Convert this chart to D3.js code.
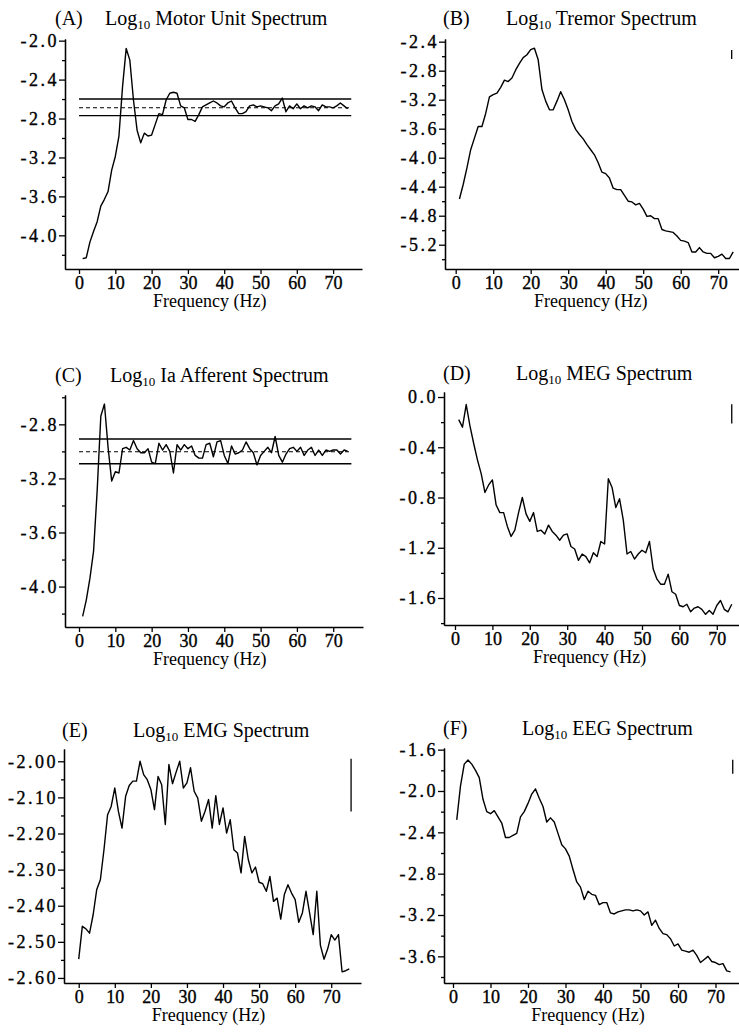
<!DOCTYPE html>
<html>
<head>
<meta charset="utf-8">
<script src="https://cdn.jsdelivr.net/npm/d3@7"></script>
<style>
  body { margin: 0; background: #fff; }
  text { font-family: "Liberation Serif", "DejaVu Serif", serif; fill: #000; }
  .axis path, .axis line { stroke: #000; stroke-width: 1.3; }
  .axis text { font-size: 18px; stroke: #000; stroke-width: 0.35px; }
  .yaxis text { letter-spacing: 2.5px; }
</style>
</head>
<body>
<script>
// Spectra, one value per Hz

var freqs = [1,2,3,4,5,6,7,8,9,10,11,12,13,14,15,16,17,18,19,20,21,22,23,24,25,26,27,28,29,30,
  31,32,33,34,35,36,37,38,39,40,41,42,43,44,45,46,47,48,49,50,51,52,53,54,55,56,57,58,59,60,
  61,62,63,64,65,66,67,68,69,70,71,72,73,74];

var freqsEMG = [0,1,2,3,4,5,6,7,8,9,10,11,12,13,14,15,16,17,18,19,20,21,22,23,24,25,26,27,28,29,30,
  31,32,33,34,35,36,37,38,39,40,41,42,43,44,45,46,47,48,49,50,51,52,53,54,55,56,57,58,59,60,
  61,62,63,64,65,66,67,68,69,70,71,72,73,74,75];

var motorUnit = [-4.24,-4.23,-4.07,-3.96,-3.86,-3.70,-3.63,-3.55,-3.33,-3.19,-2.98,-2.47,-2.08,-2.20,-2.61,
  -2.92,-3.05,-2.95,-2.98,-2.97,-2.86,-2.75,-2.76,-2.61,-2.54,-2.53,-2.54,-2.67,-2.69,-2.81,
  -2.81,-2.83,-2.76,-2.68,-2.66,-2.64,-2.62,-2.64,-2.67,-2.68,-2.64,-2.62,-2.69,-2.75,-2.75,
  -2.73,-2.67,-2.66,-2.68,-2.67,-2.68,-2.69,-2.72,-2.67,-2.65,-2.59,-2.73,-2.67,-2.70,-2.65,
  -2.70,-2.67,-2.69,-2.67,-2.68,-2.72,-2.66,-2.68,-2.68,-2.69,-2.67,-2.64,-2.67,-2.70];

var tremor = [-4.57,-4.37,-4.14,-3.89,-3.73,-3.57,-3.57,-3.39,-3.16,-3.13,-3.11,-3.03,-2.93,-2.95,-2.90,
  -2.79,-2.70,-2.62,-2.58,-2.51,-2.49,-2.65,-3.06,-3.22,-3.34,-3.34,-3.22,-3.09,-3.20,-3.34,
  -3.50,-3.61,-3.68,-3.74,-3.82,-3.89,-3.96,-4.07,-4.20,-4.22,-4.28,-4.42,-4.44,-4.44,-4.52,
  -4.60,-4.61,-4.65,-4.63,-4.71,-4.81,-4.80,-4.84,-4.84,-4.99,-5.01,-5.02,-5.03,-5.08,-5.14,
  -5.15,-5.17,-5.30,-5.30,-5.24,-5.30,-5.32,-5.32,-5.38,-5.36,-5.33,-5.39,-5.39,-5.30];

var iaAfferent = [-4.22,-4.10,-3.94,-3.74,-3.29,-2.74,-2.65,-2.97,-3.22,-3.15,-3.16,-2.98,-2.97,-2.99,-2.92,
  -2.98,-3.01,-3.01,-2.98,-3.08,-3.09,-2.94,-2.99,-2.95,-3.00,-3.16,-2.95,-2.99,-2.95,-2.98,
  -2.96,-3.03,-3.05,-3.05,-2.95,-2.94,-3.04,-2.93,-2.92,-3.03,-3.09,-2.96,-3.02,-3.01,-2.99,
  -2.93,-2.98,-3.01,-3.10,-3.03,-3.00,-2.97,-3.01,-2.89,-3.03,-3.08,-3.02,-2.98,-2.97,-3.00,
  -2.97,-3.03,-2.99,-2.97,-3.03,-2.99,-3.03,-2.99,-3.00,-2.99,-2.99,-3.02,-2.99,-3.00];

var meg = [-0.18,-0.24,-0.06,-0.23,-0.37,-0.50,-0.61,-0.76,-0.70,-0.66,-0.86,-0.92,-0.92,-1.03,-1.11,
  -1.06,-0.92,-0.80,-0.93,-0.99,-0.92,-1.07,-1.06,-1.09,-1.02,-1.07,-1.10,-1.14,-1.10,-1.09,
  -1.19,-1.21,-1.30,-1.25,-1.27,-1.32,-1.24,-1.27,-1.15,-1.17,-0.65,-0.72,-0.88,-0.81,-0.98,
  -1.25,-1.23,-1.29,-1.25,-1.22,-1.24,-1.15,-1.37,-1.45,-1.49,-1.49,-1.41,-1.55,-1.57,-1.66,
  -1.67,-1.65,-1.71,-1.68,-1.67,-1.69,-1.73,-1.70,-1.73,-1.66,-1.62,-1.69,-1.71,-1.65];

var emg = [-2.548,-2.457,-2.464,-2.476,-2.425,-2.355,-2.328,-2.245,-2.148,-2.125,-2.074,-2.139,-2.185,-2.097,
  -2.067,-2.055,-2.055,-2.000,-2.037,-2.051,-2.078,-2.134,-2.042,-2.065,-2.175,-2.009,-2.062,-2.030,
  -2.000,-2.074,-2.060,-2.018,-2.083,-2.102,-2.166,-2.139,-2.106,-2.185,-2.095,-2.175,-2.129,-2.199,
  -2.162,-2.245,-2.254,-2.309,-2.208,-2.272,-2.309,-2.293,-2.335,-2.339,-2.360,-2.319,-2.388,-2.379,
  -2.437,-2.369,-2.342,-2.365,-2.383,-2.446,-2.420,-2.360,-2.420,-2.480,-2.360,-2.510,-2.548,-2.520,
  -2.480,-2.495,-2.480,-2.583,-2.580,-2.575];

var eeg = [-2.28,-1.95,-1.74,-1.70,-1.74,-1.80,-1.87,-2.08,-2.20,-2.22,-2.19,-2.25,-2.31,-2.45,-2.45,
  -2.43,-2.41,-2.25,-2.20,-2.12,-2.03,-1.98,-2.07,-2.15,-2.30,-2.26,-2.30,-2.41,-2.52,-2.56,
  -2.63,-2.76,-2.88,-2.93,-3.05,-2.97,-3.00,-3.01,-3.10,-3.08,-3.08,-3.18,-3.19,-3.17,-3.16,
  -3.15,-3.15,-3.16,-3.15,-3.16,-3.20,-3.17,-3.30,-3.25,-3.33,-3.38,-3.39,-3.43,-3.50,-3.48,
  -3.54,-3.55,-3.56,-3.54,-3.59,-3.66,-3.63,-3.60,-3.65,-3.66,-3.68,-3.67,-3.74,-3.75];

// mean and +/- band lines for A and C, and the span they cover (Hz)
var bandsMotor = [-2.60, -2.69, -2.77];
var bandsIa = [-2.909, -3.003, -3.092];
var bandSpan = [0, 75];

// small vertical bars at top right: [Hz, low, high]
var barTremor = [73.6, -2.639, -2.514];
var barMeg = [74.0, -0.211, -0.058];
var barEmg = [75.5, -2.139, -1.993];
var barEeg = [74.6, -1.832, -1.697];

var xTicks = [0, 10, 20, 30, 40, 50, 60, 70];

var panels = [
  { tag: "(A)", name: " Motor Unit Spectrum", f: freqs, v: motorUnit, bands: bandsMotor, bar: null,
    left: 65, top: 39, right: 362, bottom: 269, xDom: [-3.86, 77.96], yDom: [-4.346, -1.983],
    major: [-2.0, -2.4, -2.8, -3.2, -3.6, -4.0], minor: [-2.2, -2.6, -3.0, -3.4, -3.8, -4.2],
    dec: 1, tagX: 55, titleX: 105, titleY: 25 },
  { tag: "(B)", name: " Tremor Spectrum", f: freqs, v: tremor, bands: null, bar: barTremor,
    left: 445, top: 39, right: 739, bottom: 269, xDom: [-2.85, 75.55], yDom: [-5.535, -2.363],
    major: [-2.4, -2.8, -3.2, -3.6, -4.0, -4.4, -4.8, -5.2], minor: [-2.6, -3.0, -3.4, -3.8, -4.2, -4.6, -5.0, -5.4],
    dec: 1, tagX: 443, titleX: 506, titleY: 25 },
  { tag: "(C)", name: " Ia Afferent Spectrum", f: freqs, v: iaAfferent, bands: bandsIa, bar: null,
    left: 65, top: 395, right: 363, bottom: 627, xDom: [-3.86, 78.2], yDom: [-4.299, -2.583],
    major: [-2.8, -3.2, -3.6, -4.0], minor: [-2.6, -3.0, -3.4, -3.8, -4.2],
    dec: 1, tagX: 55, titleX: 110, titleY: 382 },
  { tag: "(D)", name: " MEG Spectrum", f: freqs, v: meg, bands: null, bar: barMeg,
    left: 444, top: 392, right: 739, bottom: 625, xDom: [-2.94, 75.94], yDom: [-1.815, 0.04],
    major: [0.0, -0.4, -0.8, -1.2, -1.6], minor: [-0.2, -0.6, -1.0, -1.4, -1.8],
    dec: 1, tagX: 443, titleX: 516, titleY: 380 },
  { tag: "(E)", name: " EMG Spectrum", f: freqsEMG, v: emg, bands: null, bar: barEmg,
    left: 64, top: 749, right: 361, bottom: 983, xDom: [-4.08, 78.25], yDom: [-2.614, -1.966],
    major: [-2.0, -2.1, -2.2, -2.3, -2.4, -2.5, -2.6], minor: [-2.05, -2.15, -2.25, -2.35, -2.45, -2.55],
    dec: 2, tagX: 62, titleX: 133, titleY: 737 },
  { tag: "(F)", name: " EEG Spectrum", f: freqs, v: eeg, bands: null, bar: barEeg,
    left: 444, top: 748, right: 739, bottom: 983, xDom: [-2.4, 76.27], yDom: [-3.858, -1.584],
    major: [-1.6, -2.0, -2.4, -2.8, -3.2, -3.6], minor: [-1.8, -2.2, -2.6, -3.0, -3.4, -3.8],
    dec: 1, tagX: 443, titleX: 522, titleY: 735 }
];

var svgWidth = 739;
var svgHeight = 1033;

var svg = d3.select("body")
  .append("svg")
  .attr("width", svgWidth)
  .attr("height", svgHeight);

panels.forEach(function(p) {
  var w = p.right - p.left;
  var h = p.bottom - p.top;

  var g = svg.append("g")
    .attr("transform", `translate(${p.left}, ${p.top})`);

  var x = d3.scaleLinear().domain(p.xDom).range([0, w]);
  var y = d3.scaleLinear().domain(p.yDom).range([h, 0]);

  // minor ticks first, then labelled ticks on top
  g.append("g")
    .attr("class", "axis")
    .call(d3.axisLeft(y).tickValues(p.minor).tickSize(3).tickSizeOuter(0).tickFormat(""));

  g.append("g")
    .attr("class", "axis yaxis")
    .call(d3.axisLeft(y).tickValues(p.major).tickSize(6).tickSizeOuter(0).tickPadding(0)
      .tickFormat(d => d.toFixed(p.dec)));

  g.append("g")
    .attr("class", "axis")
    .attr("transform", `translate(0, ${h})`)
    .call(d3.axisBottom(x).tickValues(xTicks).tickSize(5).tickSizeOuter(0).tickPadding(2)
      .tickFormat(d => d));

  // band lines (solid, dashed, solid)
  if (p.bands) {
    g.selectAll(".band")
      .data(p.bands)
      .enter()
      .append("line")
      .attr("x1", x(bandSpan[0]))
      .attr("x2", x(bandSpan[1]))
      .attr("y1", d => y(d))
      .attr("y2", d => y(d))
      .attr("stroke", "#000")
      .attr("stroke-width", (d, i) => i == 1 ? 1.1 : 1.4)
      .attr("stroke-dasharray", (d, i) => i == 1 ? "4,3" : null);
  }

  var drawLine = d3.line()
    .x((d, i) => x(p.f[i]))
    .y(d => y(d));

  g.append("path")
    .attr("d", drawLine(p.v))
    .attr("fill", "none")
    .attr("stroke", "#000")
    .attr("stroke-width", 1.4)
    .attr("stroke-linejoin", "round");

  if (p.bar) {
    g.append("line")
      .attr("x1", x(p.bar[0]))
      .attr("x2", x(p.bar[0]))
      .attr("y1", y(p.bar[1]))
      .attr("y2", y(p.bar[2]))
      .attr("stroke", "#000")
      .attr("stroke-width", 1.3);
  }

  // x label
  g.append("text")
    .attr("x", x(36))
    .attr("y", h + 38)
    .attr("text-anchor", "middle")
    .style("font-size", "18px")
    .text("Frequency (Hz)");

  // title: tag and Log10 name
  svg.append("text")
    .attr("x", p.tagX)
    .attr("y", p.titleY)
    .style("font-size", "20px")
    .text(p.tag);

  var t = svg.append("text")
    .attr("x", p.titleX)
    .attr("y", p.titleY)
    .style("font-size", "20px");
  t.append("tspan").text("Log");
  t.append("tspan").attr("dy", 4).style("font-size", "13px").text("10");
  t.append("tspan").attr("dy", -4).text(p.name);
});
</script>
</body>
</html>
